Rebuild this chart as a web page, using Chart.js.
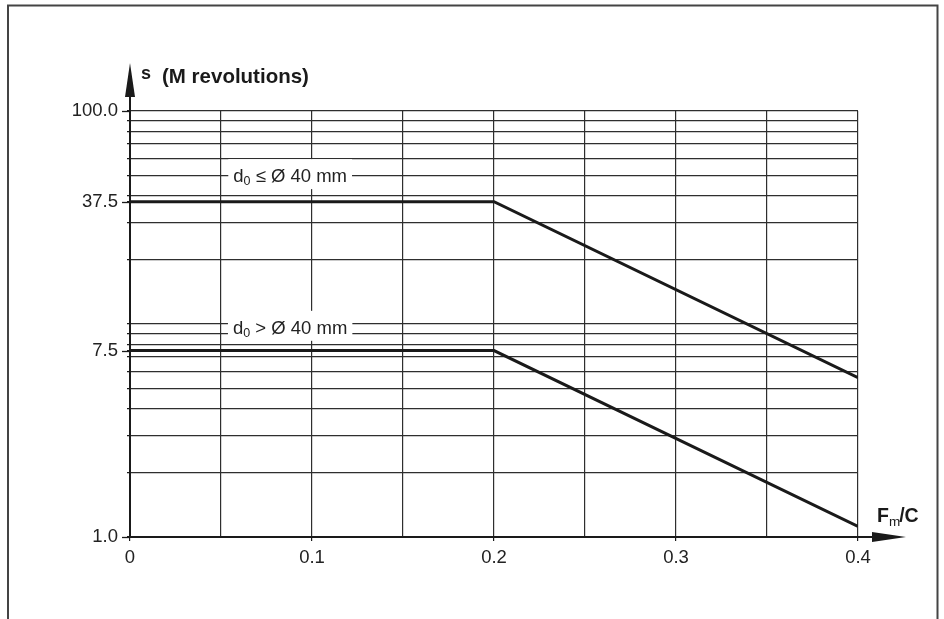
<!DOCTYPE html>
<html>
<head>
<meta charset="utf-8">
<script src="https://cdn.jsdelivr.net/npm/chart.js@4.4.0/dist/chart.umd.min.js"></script>
<style>
  html, body { margin: 0; padding: 0; background: #fff; }
  canvas { display: block; }
</style>
</head>
<body>
<canvas id="myChart" width="944" height="619"></canvas>
<script>
// data
let fmC = [0, 0.2, 0.4];
let lifeSmallBore = [37.5, 37.5, 5.6];   // d0 <= 40 mm
let lifeLargeBore = [7.5, 7.5, 1.12];    // d0 > 40 mm

let yGridValues = [1, 2, 3, 4, 5, 6, 7, 7.5, 8, 9, 10, 20, 30, 37.5, 40, 50, 60, 70, 80, 90, 100];
let yLabels = {1: '1.0', 7.5: '7.5', 37.5: '37.5', 100: '100.0'};
let xGridValues = [0, 0.05, 0.1, 0.15, 0.2, 0.25, 0.3, 0.35, 0.4];
let xLabels = {0: '0', 0.1: '0.1', 0.2: '0.2', 0.3: '0.3', 0.4: '0.4'};

let seriesNames = ['d0 ≤ Ø 40 mm', 'd0 > Ø 40 mm'];
let seriesRel = ['≤', '>'];
// where the line names sit (in chart values)
let nameAnchors = [{x: 0.088, y: 50}, {x: 0.088, y: 9.7}];

let gridColor = '#2e2e2e';
let inkColor = '#1a1a1a';
let font = '"Liberation Sans", Arial, Helvetica, sans-serif';

let extras = {
  id: 'extras',
  beforeDraw(chart) {
    let ctx = chart.ctx;
    ctx.save();
    ctx.strokeStyle = '#444';
    ctx.lineWidth = 2;
    ctx.beginPath();
    ctx.moveTo(8, 640);
    ctx.lineTo(8, 5.5);
    ctx.lineTo(937.5, 5.5);
    ctx.lineTo(937.5, 640);
    ctx.stroke();
    ctx.restore();
  },
  afterDraw(chart) {
    let ctx = chart.ctx;
    let a = chart.chartArea;
    let xs = chart.scales.x;
    let ys = chart.scales.y;
    ctx.save();
    ctx.strokeStyle = inkColor;
    ctx.fillStyle = inkColor;

    // axis arrows
    ctx.lineWidth = 2;
    ctx.beginPath();
    ctx.moveTo(a.left, a.top);
    ctx.lineTo(a.left, a.top - 14);
    ctx.moveTo(a.right, a.bottom);
    ctx.lineTo(a.right + 14, a.bottom);
    ctx.stroke();
    ctx.beginPath();
    ctx.moveTo(a.left - 5, a.top - 14);
    ctx.lineTo(a.left + 5, a.top - 14);
    ctx.lineTo(a.left, a.top - 48);
    ctx.closePath();
    ctx.fill();
    ctx.beginPath();
    ctx.moveTo(a.right + 14, a.bottom - 5);
    ctx.lineTo(a.right + 14, a.bottom + 5);
    ctx.lineTo(a.right + 48, a.bottom);
    ctx.closePath();
    ctx.fill();

    // longer ticks at labelled values
    ctx.lineWidth = 1.3;
    Object.keys(yLabels).forEach(k => {
      let py = Math.round(ys.getPixelForValue(Number(k))) + 0.5;
      ctx.beginPath();
      ctx.moveTo(a.left - 8, py);
      ctx.lineTo(a.left, py);
      ctx.stroke();
    });

    // axis titles
    ctx.textBaseline = 'alphabetic';
    ctx.textAlign = 'left';
    ctx.font = 'bold 18px ' + font;
    ctx.fillText('s', a.left + 11, a.top - 32);
    ctx.font = 'bold 20.5px ' + font;
    ctx.fillText('(M revolutions)', a.left + 32, a.top - 28);

    let fx = a.right + 19;
    let fy = a.bottom - 15;
    ctx.font = 'bold 19.5px ' + font;
    ctx.fillText('F', fx, fy);
    fx += ctx.measureText('F').width;
    ctx.font = '13.5px ' + font;
    ctx.fillText('m', fx, fy + 4);
    fx += ctx.measureText('m').width;
    ctx.font = 'bold 19.5px ' + font;
    ctx.fillText('/C', fx - 1, fy);

    // series names on white boxes
    nameAnchors.forEach((p, i) => {
      let cx = xs.getPixelForValue(p.x);
      let cy = ys.getPixelForValue(p.y);
      let rest = ' ' + seriesRel[i] + ' Ø 40 mm';
      ctx.font = '18.5px ' + font;
      let wd = ctx.measureText('d').width;
      let wr = ctx.measureText(rest).width;
      ctx.font = '12.5px ' + font;
      let w0 = ctx.measureText('0').width;
      let total = wd + w0 + wr;
      let x0 = cx - total / 2;
      ctx.fillStyle = '#fff';
      ctx.fillRect(x0 - 5, cy - 16, total + 10, 30);
      ctx.fillStyle = '#222';
      ctx.font = '18.5px ' + font;
      ctx.fillText('d', x0, cy + 7);
      ctx.font = '12.5px ' + font;
      ctx.fillText('0', x0 + wd, cy + 10);
      ctx.font = '18.5px ' + font;
      ctx.fillText(rest, x0 + wd + w0, cy + 7);
    });
    ctx.restore();
  }
};

let ctx = document.getElementById('myChart').getContext('2d');
let myChart = new Chart(ctx, {
  type: 'line',
  data: {
    datasets: [{
      label: seriesNames[0],
      data: fmC.map((x, i) => ({x: x, y: lifeSmallBore[i]})),
      borderColor: inkColor,
      borderWidth: 3,
      pointRadius: 0,
      fill: false
    }, {
      label: seriesNames[1],
      data: fmC.map((x, i) => ({x: x, y: lifeLargeBore[i]})),
      borderColor: inkColor,
      borderWidth: 3,
      pointRadius: 0,
      fill: false
    }]
  },
  options: {
    responsive: false,
    animation: false,
    events: [],
    layout: {padding: {left: 0, right: 86, top: 111, bottom: 52}},
    plugins: {legend: {display: false}, tooltip: {enabled: false}},
    scales: {
      x: {
        type: 'linear',
        min: 0,
        max: 0.4,
        afterBuildTicks: s => { s.ticks = xGridValues.map(v => ({value: v})); },
        afterFit: s => { s.height = 30; },
        grid: {
          color: gridColor,
          lineWidth: 1.2,
          tickLength: 4,
          tickColor: c => (c.tick && xLabels[c.tick.value] !== undefined) ? inkColor : 'transparent'
        },
        border: {display: true, color: inkColor, width: 2},
        ticks: {
          autoSkip: false,
          maxRotation: 0,
          padding: 6,
          color: '#222',
          font: {family: font, size: 18.5},
          callback: v => xLabels[v] !== undefined ? xLabels[v] : ''
        }
      },
      y: {
        type: 'logarithmic',
        min: 1,
        max: 100,
        afterBuildTicks: s => { s.ticks = yGridValues.map(v => ({value: v})); },
        afterFit: s => { s.width = 130; },
        grid: {
          color: c => (c.tick && (c.tick.value === 7.5 || c.tick.value === 37.5)) ? 'transparent' : gridColor,
          lineWidth: 1.2,
          tickLength: 3,
          tickColor: inkColor
        },
        border: {display: true, color: inkColor, width: 2},
        ticks: {
          autoSkip: false,
          padding: 9,
          color: '#222',
          font: {family: font, size: 18.5},
          callback: v => yLabels[v] !== undefined ? yLabels[v] : ''
        }
      }
    }
  },
  plugins: [extras]
});
</script>
</body>
</html>
